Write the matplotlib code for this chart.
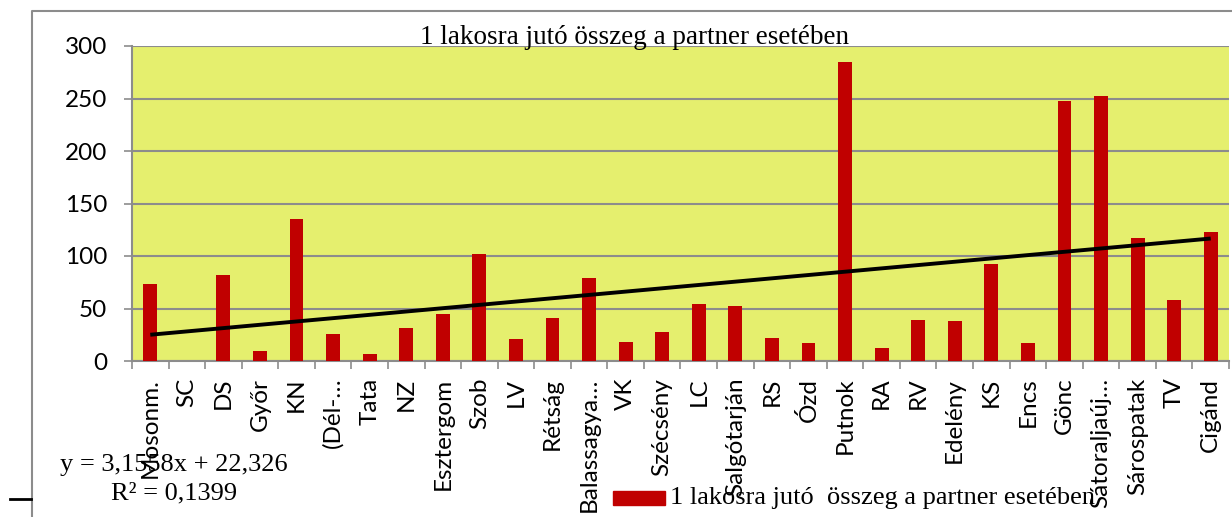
import numpy as np
import matplotlib.pyplot as plt
from matplotlib.patches import Rectangle
from matplotlib.lines import Line2D

# data
cities = ["Mosonm.", "SC", "DS", "Győr", "KN", "(Dél-…", "Tata", "NZ",
          "Esztergom", "Szob", "LV", "Rétság", "Balassagya…", "VK",
          "Szécsény", "LC", "Salgótarján", "RS", "Ózd", "Putnok", "RA",
          "RV", "Edelény", "KS", "Encs", "Gönc", "Sátoraljaúj…",
          "Sárospatak", "TV", "Cigánd"]
values = [73, 0, 82, 10, 135, 26, 7, 31, 45, 102, 21, 40.5, 79, 18.5,
          28, 54.5, 52, 22, 17, 285, 12, 39, 38, 92, 17.5, 248, 252,
          117, 58, 123]
yticks = [0, 50, 100, 150, 200, 250, 300]

title = "1 lakosra jutó összeg a partner esetében"
legend_label = "1 lakosra jutó  összeg a partner esetében"
eq_text = "y = 3,1558x + 22,326"
r2_text = "R² = 0,1399"

W, H = 1232, 517
fig = plt.figure(figsize=(W / 100, H / 100), dpi=100)
ax = fig.add_axes([132 / W, 1 - 361 / H, (1229 - 132) / W, (361 - 46) / H])

x = np.arange(len(cities))
ax.set_facecolor("#E5EF6E")
ax.bar(x, values, width=0.38, color="#C00000", zorder=3)

# linear trend
m, b = np.polyfit(x + 1, values, 1)
ax.plot(x, m * (x + 1) + b, color="black", lw=2.8, zorder=4,
        solid_capstyle="butt")

ax.set_xlim(-0.5, len(cities) - 0.5)
ax.set_ylim(0, 300)
ax.set_yticks(yticks)
ax.yaxis.grid(True, color="#8c8c8c", lw=1.5, zorder=1)
ax.set_axisbelow(True)

ax.set_xticks(x)
ax.set_xticklabels(cities, rotation=90, fontfamily="Lato", fontsize=17.5)
ax.set_xticks(np.arange(-0.5, len(cities)), minor=True)
ax.tick_params(axis="x", which="major", length=0, pad=12)
ax.tick_params(axis="x", which="minor", length=6, width=1.2,
               color="#8c8c8c", direction="out")
ax.tick_params(axis="y", length=6, width=1.2, color="#8c8c8c", pad=12,
               labelsize=17.5)
for lab in ax.get_yticklabels():
    lab.set_fontfamily("Lato")

for s in ["top", "right"]:
    ax.spines[s].set_visible(False)
for s in ["left", "bottom"]:
    ax.spines[s].set_color("#8c8c8c")
    ax.spines[s].set_linewidth(1.5)

serif = "Liberation Serif"
fig.text(634 / W, 1 - 37 / H, title, ha="center", va="center",
         fontfamily=serif, fontsize=19.5)
fig.text(174 / W, 1 - 465 / H, eq_text, ha="center", va="center",
         fontfamily=serif, fontsize=19)
fig.text(174 / W, 1 - 493 / H, r2_text, ha="center", va="center",
         fontfamily=serif, fontsize=19)

# legend
fig.patches.append(Rectangle((613 / W, 1 - 505 / H), 52 / W, 14 / H,
                             transform=fig.transFigure, color="#C00000"))
fig.text(670 / W, 1 - 498 / H, legend_label, ha="left", va="center",
         fontfamily=serif, fontsize=19)

# outer chart frame and stray mark
fig.lines.append(Line2D([32 / W, 32 / W, 1.0], [0, 1 - 11 / H, 1 - 11 / H],
                        transform=fig.transFigure, color="#8c8c8c", lw=1.5))
fig.lines.append(Line2D([10 / W, 31 / W], [1 - 499 / H, 1 - 499 / H],
                        transform=fig.transFigure, color="black", lw=2))

fig.savefig("out.png", dpi=100, facecolor="white")
